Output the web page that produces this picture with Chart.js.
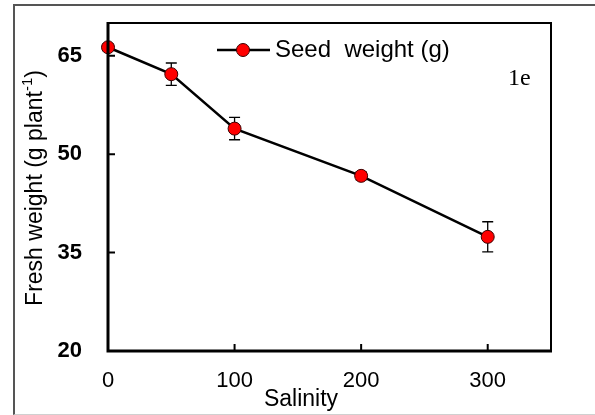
<!DOCTYPE html>
<html lang="en">
<head>
  <meta charset="UTF-8">
  <title>Seed weight vs salinity</title>
  <script src="https://cdn.jsdelivr.net/npm/chart.js@4.4.1/dist/chart.umd.min.js"></script>
  <style>
    body { margin: 0; background: #fff; }
    #wrap { position: relative; width: 595px; height: 415px; overflow: hidden; }
    #frame { position: absolute; left: 13px; top: 4px; width: 620px; height: 408px;
             border: 2px solid #555; border-bottom: 1px solid #d0d0d0; }
    canvas { position: absolute; left: 0; top: 0; }
  </style>
</head>
<body>
  <div id="wrap">
    <div id="frame"></div>
    <canvas id="chart" width="595" height="415"></canvas>
  </div>

  <script>
    // data
    const salinity = [0, 50, 100, 200, 300];
    const seedWeight = [66.3, 62.2, 53.9, 46.7, 37.4];
    const seedErr = [0.5, 1.7, 1.7, 0.6, 2.3];
    const xTicks = [0, 100, 200, 300];
    const yTicks = [20, 35, 50, 65];
    const seriesLabel = 'Seed  weight (g)';
    const panelTag = '1e';

    const font = "'Liberation Sans', Arial, sans-serif";

    const figurePlugin = {
      id: 'figure',
      beforeDatasetsDraw(chart) {
        const ctx = chart.ctx, x = chart.scales.x, y = chart.scales.y;
        ctx.save();
        ctx.strokeStyle = '#000';
        ctx.lineWidth = 1.3;
        salinity.forEach((s, i) => {
          const px = x.getPixelForValue(s);
          const top = y.getPixelForValue(seedWeight[i] + seedErr[i]);
          const bot = y.getPixelForValue(seedWeight[i] - seedErr[i]);
          ctx.beginPath();
          ctx.moveTo(px, top); ctx.lineTo(px, bot);
          ctx.moveTo(px - 5.5, top); ctx.lineTo(px + 5.5, top);
          ctx.moveTo(px - 5.5, bot); ctx.lineTo(px + 5.5, bot);
          ctx.stroke();
        });
        ctx.restore();
      },
      afterDraw(chart) {
        const ctx = chart.ctx, a = chart.chartArea, x = chart.scales.x, y = chart.scales.y;
        ctx.save();
        // plot frame
        ctx.strokeStyle = '#000';
        ctx.lineWidth = 2;
        ctx.beginPath();
        ctx.moveTo(a.left, a.top); ctx.lineTo(a.right, a.top); ctx.lineTo(a.right, a.bottom);
        ctx.stroke();
        ctx.lineWidth = 3;
        ctx.beginPath();
        ctx.moveTo(a.left, a.top - 1); ctx.lineTo(a.left, a.bottom); ctx.lineTo(a.right + 1, a.bottom);
        ctx.stroke();
        // inward tick marks
        ctx.lineWidth = 2;
        ctx.beginPath();
        xTicks.forEach(v => {
          const px = x.getPixelForValue(v);
          ctx.moveTo(px, a.bottom); ctx.lineTo(px, a.bottom - 7);
        });
        yTicks.forEach(v => {
          const py = y.getPixelForValue(v);
          ctx.moveTo(a.left, py); ctx.lineTo(a.left + 7, py);
        });
        ctx.stroke();

        // x title
        ctx.fillStyle = '#000';
        ctx.font = '23px ' + font;
        ctx.textAlign = 'center';
        ctx.textBaseline = 'middle';
        ctx.fillText('Salinity', 301, 400);

        // y title with superscript
        ctx.save();
        ctx.translate(33, 188);
        ctx.rotate(-Math.PI / 2);
        const main = 'Fresh weight (g plant', sup = '-1', end = ')';
        ctx.font = '23px ' + font;
        const w1 = ctx.measureText(main).width, w3 = ctx.measureText(end).width;
        ctx.font = '15px ' + font;
        const w2 = ctx.measureText(sup).width;
        let sx = -(w1 + w2 + w3) / 2;
        ctx.textAlign = 'left';
        ctx.textBaseline = 'alphabetic';
        ctx.font = '23px ' + font;
        ctx.fillText(main, sx, 9);
        ctx.font = '15px ' + font;
        ctx.fillText(sup, sx + w1, -1);
        ctx.font = '23px ' + font;
        ctx.fillText(end, sx + w1 + w2, 9);
        ctx.restore();

        // legend
        const ds = chart.data.datasets[0];
        ctx.strokeStyle = '#000';
        ctx.lineWidth = 2.5;
        ctx.beginPath();
        ctx.moveTo(217, 50); ctx.lineTo(270, 50);
        ctx.stroke();
        ctx.beginPath();
        ctx.arc(243, 50, 6.5, 0, Math.PI * 2);
        ctx.fillStyle = ds.pointBackgroundColor;
        ctx.fill();
        ctx.lineWidth = 1;
        ctx.strokeStyle = ds.pointBorderColor;
        ctx.stroke();
        ctx.fillStyle = '#000';
        ctx.font = '24px ' + font;
        ctx.textAlign = 'left';
        ctx.textBaseline = 'middle';
        ctx.fillText(ds.label, 275, 50);

        // panel tag
        ctx.font = "24px 'Liberation Serif', 'Times New Roman', serif";
        ctx.fillText(panelTag, 508, 79);
        ctx.restore();
      }
    };

    const noPad = s => { s.paddingTop = 0; s.paddingBottom = 0; s.paddingLeft = 0; s.paddingRight = 0; };

    new Chart(document.getElementById('chart'), {
      type: 'line',
      data: {
        datasets: [{
          label: seriesLabel,
          data: salinity.map((s, i) => ({ x: s, y: seedWeight[i] })),
          borderColor: '#000',
          borderWidth: 2.5,
          pointRadius: 6.5,
          pointBackgroundColor: '#ff0000',
          pointBorderColor: '#3a0000',
          pointBorderWidth: 1,
          clip: false,
          tension: 0
        }]
      },
      options: {
        responsive: false,
        animation: false,
        events: [],
        layout: { padding: { left: 0, top: 23, right: 44, bottom: 0 } },
        plugins: { legend: { display: false }, tooltip: { enabled: false } },
        scales: {
          x: {
            type: 'linear', min: 0, max: 350,
            grid: { display: false, drawTicks: false },
            border: { display: false },
            ticks: { stepSize: 100, padding: 17, color: '#000', font: { family: font, size: 22 } },
            afterBuildTicks: s => { s.ticks = xTicks.map(v => ({ value: v })); },
            afterFit: s => { s.height = 64; noPad(s); }
          },
          y: {
            min: 20, max: 70,
            grid: { display: false, drawTicks: false },
            border: { display: false },
            ticks: { stepSize: 15, padding: 26, color: '#000', font: { family: font, size: 22, weight: 'bold' } },
            afterBuildTicks: s => { s.ticks = yTicks.map(v => ({ value: v })); },
            afterFit: s => { s.width = 108; noPad(s); }
          }
        }
      },
      plugins: [figurePlugin]
    });
  </script>
</body>
</html>
